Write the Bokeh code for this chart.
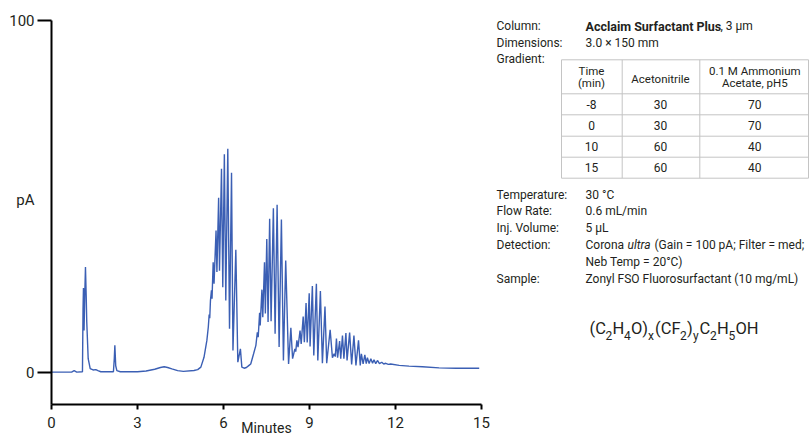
from bokeh.plotting import figure
from bokeh.models import Range1d, FixedTicker, Label, LinearAxis
from bokeh.layouts import row
from bokeh.embed import file_html
from bokeh.resources import INLINE

# ---------------- data ----------------
# chromatogram trace vertices (minutes, pA)
time_min = [0.00, 0.70, 0.79, 0.88, 1.08, 1.10, 1.115, 1.135, 1.16, 1.185, 1.21, 1.23, 1.28, 1.35, 1.45,
            1.545, 1.62, 1.72, 2.16, 2.19, 2.21, 2.24, 2.28, 2.40, 3.00, 3.30, 3.60, 3.80, 3.93, 4.05,
            4.20, 4.40, 4.60, 4.97, 5.10, 5.21, 5.32, 5.42, 5.47, 5.50, 5.52, 5.545, 5.58, 5.60, 5.64,
            5.67, 5.74, 5.77, 5.83, 5.86, 5.93, 5.975, 6.03, 6.08, 6.15, 6.21, 6.28, 6.33, 6.43, 6.50,
            6.59, 6.64, 6.72, 6.80, 6.89, 6.95, 7.05, 7.13, 7.18, 7.21, 7.26, 7.28, 7.34, 7.37, 7.43,
            7.46, 7.51, 7.555, 7.61, 7.66, 7.74, 7.80, 7.87, 7.94, 8.02, 8.09, 8.17, 8.27, 8.35, 8.41,
            8.49, 8.52, 8.56, 8.60, 8.67, 8.71, 8.78, 8.82, 8.88, 8.92, 8.99, 9.02, 9.10, 9.15, 9.24,
            9.29, 9.38, 9.45, 9.54, 9.60, 9.72, 9.80, 9.86, 9.90, 9.94, 9.98, 10.05, 10.09, 10.15,
            10.20, 10.27, 10.31, 10.40, 10.47, 10.55, 10.62, 10.71, 10.77, 10.81, 10.87, 10.93, 10.98,
            11.02, 11.08, 11.14, 11.20, 11.25, 11.31, 11.37, 11.44, 11.52, 11.59, 11.66, 11.75, 11.83,
            12.13, 12.47, 12.94, 13.52, 14.10, 14.92]
signal_pA = [0.2, 0.2, 0.6, 0.2, 0.3, 18.0, 24.1, 12.0, 22.0, 30.0, 22.0, 14.4, 4.0, 1.2, 0.8,
             0.9, 0.6, 0.3, 0.3, 4.0, 7.8, 2.0, 0.6, 0.3, 0.3, 0.5, 1.0, 1.5, 1.7, 1.5,
             1.1, 0.6, 0.4, 0.65, 0.9, 1.6, 4.4, 9.2, 13.0, 16.5, 15.5, 20.5, 23.4, 21.0, 31.4,
             25.3, 40.4, 28.6, 49.7, 29.0, 57.9, 24.3, 62.0, 20.5, 63.6, 12.5, 56.8, 6.3, 34.9, 3.0,
             6.8, 1.6, 1.3, 1.5, 2.1, 2.5, 5.4, 7.8, 11.5, 10.1, 17.0, 13.4, 23.6, 15.8, 31.4,
             16.8, 38.0, 14.4, 43.7, 14.6, 46.7, 11.1, 47.7, 7.3, 43.5, 3.5, 31.9, 2.5, 12.8, 4.0,
             6.8, 6.0, 9.2, 7.3, 12.0, 8.2, 16.0, 8.7, 19.8, 8.6, 22.6, 7.5, 24.6, 4.9, 25.3,
             3.5, 23.2, 2.7, 18.8, 2.7, 12.2, 4.3, 5.4, 4.6, 9.7, 4.3, 9.0, 4.0, 10.6,
             4.0, 11.3, 3.5, 11.4, 2.4, 10.6, 2.1, 9.2, 2.1, 5.4, 2.5, 5.1, 2.6,
             4.3, 2.6, 4.0, 2.7, 3.7, 2.6, 3.5, 2.6, 3.0, 2.5, 2.7, 2.4, 2.5,
             2.1, 1.9, 1.7, 1.4, 1.3, 1.3]

x_ticks = [0, 3, 6, 9, 12, 15]
y_ticks = [0, 100]
y_title_at = 49          # height at which the horizontal "pA" title sits

# gradient table
grad_time = ["-8", "0", "10", "15"]
grad_acn = ["30", "30", "60", "60"]
grad_amm = ["70", "70", "40", "40"]

FONT = "Roboto"
INK = "#231f20"
BLUE = "#3b5fb4"
H = 440
TOP, BOT = 20, 404       # frame top / bottom in picture pixels

# ---------------- chromatogram ----------------
p = figure(width=494, height=H, x_range=Range1d(0, 15), y_range=Range1d(-9.0, 100),
           output_backend="svg", toolbar_location=None,
           min_border_left=51, min_border_right=13, min_border_top=TOP, min_border_bottom=H - BOT)
p.grid.visible = False
p.outline_line_color = None
p.background_fill_color = "white"
p.border_fill_color = "white"

p.line(time_min, signal_pA, line_color=BLUE, line_width=1.4)

xa = p.xaxis[0]
ya = p.yaxis[0]
for ax in (xa, ya):
    ax.axis_line_width = 2
    ax.axis_line_color = "black"
    ax.major_tick_line_width = 2
    ax.major_tick_line_color = "black"
    ax.minor_tick_line_color = None
    ax.major_tick_in = 0
    ax.major_label_text_font = FONT
    ax.major_label_text_font_size = "15px"
    ax.major_label_text_color = INK

xa.ticker = FixedTicker(ticks=x_ticks)
xa.major_tick_out = 5
xa.major_label_standoff = 7
xa.axis_label = "Minutes"
xa.axis_label_text_font = FONT
xa.axis_label_text_font_size = "14px"
xa.axis_label_text_font_style = "normal"
xa.axis_label_text_color = INK
xa.axis_label_standoff = -11

# inner y axis: line and tick marks only
ya.ticker = FixedTicker(ticks=y_ticks)
ya.major_tick_out = 14
ya.major_label_standoff = 0
ya.major_label_overrides = {0: "", 100: ""}

# outer y axis: tick labels and the horizontal "pA" title
yb = LinearAxis(ticker=FixedTicker(ticks=y_ticks + [y_title_at]),
                major_label_overrides={y_title_at: "pA"},
                axis_line_color=None, major_tick_line_color=None, minor_tick_line_color=None,
                major_tick_in=0, major_tick_out=0, major_label_standoff=3,
                major_label_text_font=FONT, major_label_text_font_size="15px",
                major_label_text_color=INK)
p.add_layout(yb, "left")

# ---------------- conditions panel ----------------
# the panel's frame is aligned with the chart's frame, so its data units are picture pixels
X0, W2 = 494, 316
q = figure(width=W2, height=H, x_range=Range1d(X0, X0 + W2), y_range=Range1d(BOT, TOP),
           output_backend="svg", toolbar_location=None,
           min_border_left=0, min_border_right=0, min_border_top=TOP, min_border_bottom=H - BOT,
           x_axis_type=None, y_axis_type=None)
q.grid.visible = False
q.outline_line_color = None
q.background_fill_color = "white"
q.border_fill_color = "white"

FS = "12px"


def lab(t, x, y, size=FS, style="normal", align="left", baseline="middle"):
    q.add_layout(Label(x=x, y=y, text=t, text_font=FONT, text_font_size=size,
                       text_font_style=style, text_color=INK, text_align=align,
                       text_baseline=baseline))


names = ["Column:", "Dimensions:", "Gradient:"]
for t, y in zip(names, [25.5, 42, 58]):
    lab(t, 496, y)
lab("Acclaim Surfactant Plus", 585, 25.5, size="12.5px", style="bold")
lab(", 3 µm", 720, 25.5)
lab("3.0 × 150 mm", 585, 42)

# table grid
tx = [561, 621.7, 699.3, 808]
ty = [59.3, 93.3, 114.3, 135.7, 156.7, 177.7]
for x in tx:
    q.line([x, x], [ty[0], ty[-1]], line_color="#c4c4c4", line_width=1)
for y in ty:
    q.line([tx[0], tx[-1]], [y, y], line_color="#c4c4c4", line_width=1)

cx = [591, 660, 754.3]
lab("Time", cx[0], 70, size="11.5px", align="center")
lab("(min)", cx[0], 82.5, size="11.5px", align="center")
lab("Acetonitrile", cx[1], 78, size="11.5px", align="center")
lab("0.1 M Ammonium", cx[2], 70, size="11.5px", align="center")
lab("Acetate, pH5", cx[2], 82, size="11.5px", align="center")
row_y = [104, 125, 146, 167]
for i, y in enumerate(row_y):
    lab(grad_time[i], cx[0], y, align="center")
    lab(grad_acn[i], cx[1], y, align="center")
    lab(grad_amm[i], cx[2], y, align="center")

cond = [("Temperature:", "30 °C", 194), ("Flow Rate:", "0.6 mL/min", 210.7),
        ("Inj. Volume:", "5 µL", 227.3), ("Detection:", None, 244),
        ("Sample:", "Zonyl FSO  Fluorosurfactant  (10 mg/mL)", 278.3)]
for name, val, y in cond:
    lab(name, 496, y)
    if val:
        lab(val, 585, y)
lab("Corona", 585, 244)
lab("ultra", 627, 244, style="italic")
lab("(Gain = 100 pA; Filter = med;", 654, 244)
lab("Neb Temp = 20°C)", 585, 261)

# formula (C2H4O)x(CF2)yC2H5OH
pieces = [("(C", 589, 0), ("2", 605, 1), ("H", 612, 0), ("4", 623.5, 1), ("O)", 630.5, 0),
          ("x", 647.5, 1), ("(CF", 654.5, 0), ("2", 679.5, 1), (")", 686.5, 0), ("y", 692.5, 1),
          ("C", 699, 0), ("2", 709.5, 1), ("H", 716.5, 0), ("5", 728, 1), ("OH", 735, 0)]
for t, x, sub in pieces:
    if sub:
        lab(t, x, 335, size="12px", baseline="alphabetic")
    else:
        lab(t, x, 328.3, size="16.5px", baseline="alphabetic")

layout = row(p, q)
open("out.html", "w").write(file_html(layout, INLINE))
